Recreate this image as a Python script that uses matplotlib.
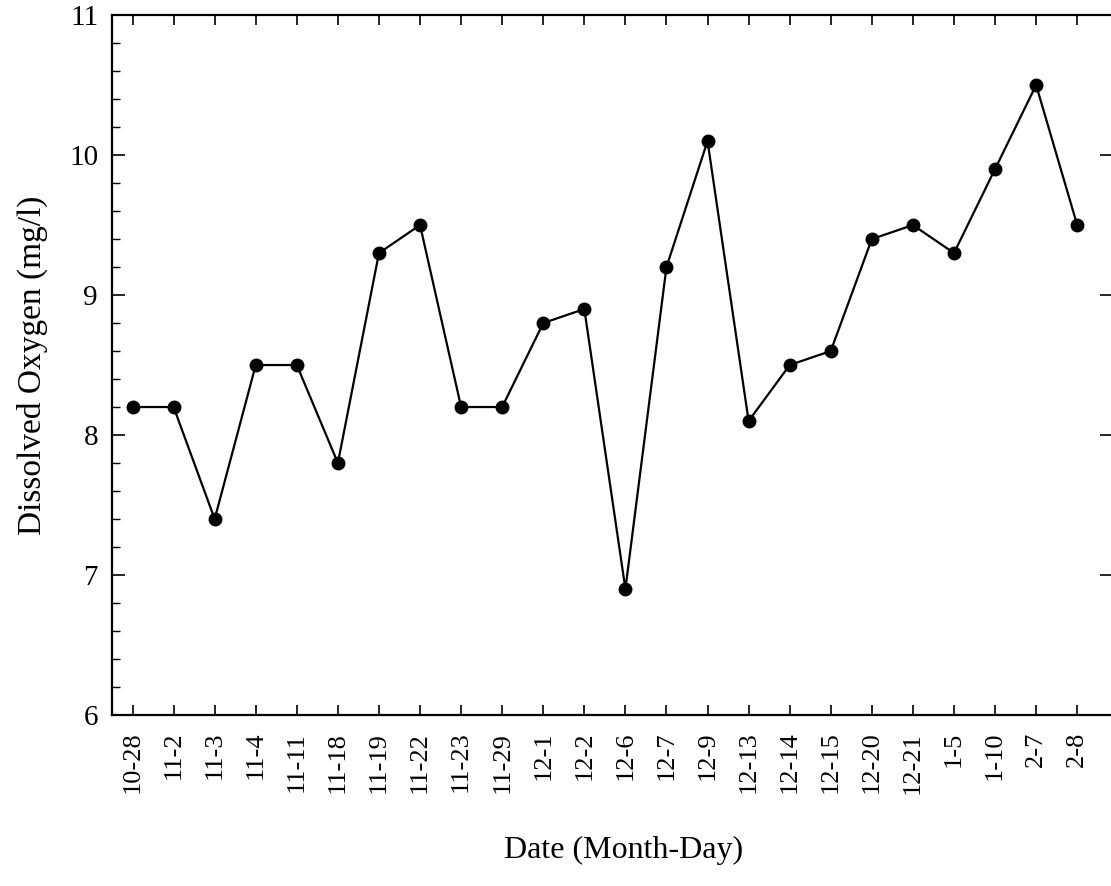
import matplotlib
matplotlib.use("Agg")
import matplotlib.pyplot as plt
from matplotlib.ticker import MultipleLocator

dates = ["10-28", "11-2", "11-3", "11-4", "11-11", "11-18", "11-19", "11-22",
         "11-23", "11-29", "12-1", "12-2", "12-6", "12-7", "12-9", "12-13",
         "12-14", "12-15", "12-20", "12-21", "1-5", "1-10", "2-7", "2-8"]
oxygen = [8.2, 8.2, 7.4, 8.5, 8.5, 7.8, 9.3, 9.5,
          8.2, 8.2, 8.8, 8.9, 6.9, 9.2, 10.1, 8.1,
          8.5, 8.6, 9.4, 9.5, 9.3, 9.9, 10.5, 9.5]
y_ticks = [6, 7, 8, 9, 10, 11]

plt.rcParams['font.family'] = ['Liberation Serif', 'DejaVu Serif']

fig = plt.figure(figsize=(11.11, 8.86), dpi=100)
ax = fig.add_axes([0.1008, 0.193, 0.9002, 0.790])

x = list(range(len(dates)))
ax.plot(x, oxygen, color='black', lw=1.6, marker='o', markersize=9,
        markerfacecolor='black', markeredgecolor='black')

ax.set_xlim(-0.5, 23.85)
ax.set_ylim(6, 11)
ax.set_xticks(x)
ax.set_xticklabels(dates, rotation=90, fontsize=19)
ax.set_yticks(y_ticks)
ax.set_yticklabels([str(v) for v in y_ticks], fontsize=21)
ax.yaxis.set_minor_locator(MultipleLocator(0.2))

ax.tick_params(axis='x', which='major', direction='in', length=7, width=1.2,
               top=True, bottom=True, pad=12)
ax.tick_params(axis='y', which='major', direction='in', length=9, width=1.2,
               left=True, right=True, pad=10)
ax.tick_params(axis='y', which='minor', direction='in', length=6, width=1.0,
               left=True, right=False)

for s in ax.spines.values():
    s.set_linewidth(1.6)

fig.text(624 / 1111, 1 - 858 / 886, "Date (Month-Day)", fontsize=23,
         ha='center', va='baseline')
ax.set_ylabel("Dissolved Oxygen (mg/l)", fontsize=24, labelpad=15)

fig.savefig("out.png", dpi=100)
